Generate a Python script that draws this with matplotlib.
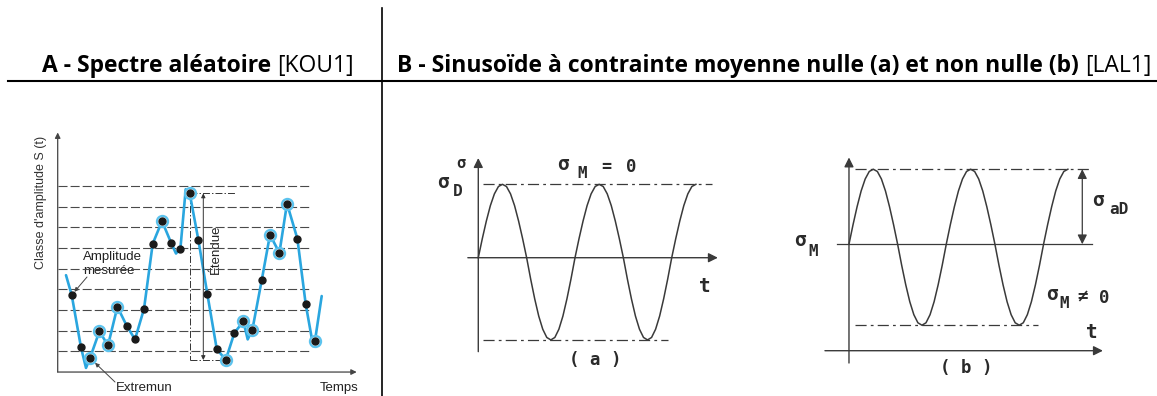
import matplotlib.pyplot as plt

W, H = 1157, 396

# ---- A : random spectrum (time units, amplitude classes) ----
dot_t = [1.40, 2.33, 3.23, 4.17, 5.03, 5.97, 6.90, 7.73, 8.63, 9.50, 10.43, 11.33, 12.27, 13.20,
         14.07, 14.97, 15.90, 16.80, 17.67, 18.57, 19.47, 20.40, 21.23, 22.17, 22.93, 23.97, 24.80, 25.73]
dot_a = [3.73, 1.19, 0.68, 1.97, 1.29, 3.16, 2.24, 1.58, 3.06, 6.21, 7.31, 6.27, 5.98, 8.65,
         6.39, 3.76, 1.13, 0.58, 1.90, 2.45, 2.06, 4.44, 6.65, 5.77, 8.16, 6.45, 3.29, 1.52]
circled = [0, 0, 1, 1, 1, 1, 0, 0, 0, 0, 1, 0, 0, 1,
           0, 0, 0, 1, 0, 1, 1, 0, 1, 1, 1, 0, 0, 1]
# extra vertices of the blue curve (ends, dips, peaks between the dots)
extra_t = [0.83, 2.83, 11.83, 12.80, 19.00, 25.55, 26.40]
extra_a = [4.69, 0.20, 5.74, 8.85, 1.58, 1.25, 3.68]
class_levels = [1, 2, 3, 4, 5, 6, 7, 8, 9]

# ---- B : sinusoids, one period read every 1/24 (peak = 1) ----
wave_phase = [k / 24 for k in range(24)]
wave_shape = [0, .26, .5, .71, .87, .97, 1, .97, .87, .71, .5, .26,
              0, -.26, -.5, -.71, -.87, -.97, -1, -.97, -.87, -.71, -.5, -.26]
n_periods = 2.25
sig_a_up, sig_a_down = 1.0, 1.12          # (a) mean 0
sig_b_mean, sig_b_up, sig_b_down = 1.42, 1.0, 1.08   # (b) mean != 0

plt.rcParams['lines.scale_dashes'] = False

fig = plt.figure(figsize=(W / 100, H / 100), dpi=100)

ov = fig.add_axes([0, 0, 1, 1])
ov.set_xlim(0, W)
ov.set_ylim(H, 0)
ov.axis('off')


def panel(x0, y0, x1, y1, xlim, ylim):
    ax = fig.add_axes([x0 / W, 1 - y1 / H, (x1 - x0) / W, (y1 - y0) / H])
    ax.set_xlim(xlim)
    ax.set_ylim(ylim)
    ax.axis('off')
    return ax


def arrow(ax, p0, p1, col, lw=1.0, ms=10, style='-|>'):
    ax.annotate('', xy=p1, xytext=p0,
                arrowprops=dict(arrowstyle=style, color=col, lw=lw, mutation_scale=ms,
                                shrinkA=0, shrinkB=0))


# table lines and titles
ov.plot([8, W], [80.5, 80.5], color='black', lw=1.5)
ov.plot([381.5, 381.5], [8, H], color='black', lw=1.2)

tf = 'Open Sans'
fs_t = 16.5
t1 = ov.text(42, 72, 'A - Spectre aléatoire ', fontsize=fs_t, fontweight='bold', family=tf,
             va='baseline')
ov.annotate('[KOU1]', xy=(1, 0), xycoords=t1, va='bottom', ha='left', fontsize=fs_t, family=tf)
t2 = ov.text(397, 72, 'B - Sinusoïde à contrainte moyenne nulle (a) et non nulle (b) ',
             fontsize=fs_t, fontweight='bold', family=tf, va='baseline')
ov.annotate('[LAL1]', xy=(1, 0), xycoords=t2, va='bottom', ha='left', fontsize=fs_t, family=tf)

# ---------------- panel A ----------------
axA = panel(20, 130, 380, 396, (-3.77, 32.23), (-1.16, 11.72))
gray = '#444444'
for lv in class_levels:
    axA.plot([0, 25.2], [lv, lv], color='#4a4a4a', lw=0.8, dashes=(6.5, 2.2))
arrow(axA, (0, 0), (0, 11.6), gray, lw=0.9, ms=8)
arrow(axA, (0, 0), (29.9, 0), gray, lw=0.9, ms=8)

pts = sorted(list(zip(dot_t, dot_a)) + list(zip(extra_t, extra_a)))
axA.plot([p[0] for p in pts], [p[1] for p in pts], color='#2aa6df', lw=1.9,
         solid_joinstyle='round', solid_capstyle='round', zorder=3)
ct = [t for t, c in zip(dot_t, circled) if c]
ca = [a for a, c in zip(dot_a, circled) if c]
axA.plot(ct, ca, 'o', ms=8, mfc='white', mec='#5cc3ee', mew=1.6, zorder=4)
axA.plot(dot_t, dot_a, 'o', ms=5, color='#1a1a1a', zorder=5)

# range (Étendue) bracket
i_max = dot_a.index(max(dot_a))
i_min = dot_a.index(min(dot_a))
tmax, amax = dot_t[i_max], dot_a[i_max]
tmin, amin = dot_t[i_min], dot_a[i_min]
dd = (5, 1.5, 1, 1.5)
axA.plot([tmax, tmax + 4.5], [amax, amax], color='#333333', lw=0.7, dashes=dd)
axA.plot([tmax, tmax], [amax, amin], color='#333333', lw=0.7, dashes=dd)
axA.plot([tmax, tmin], [amin, amin], color='#333333', lw=0.7, dashes=dd)
arrow(axA, (tmax + 1.36, amin), (tmax + 1.36, amax), '#333333', lw=0.7, ms=6, style='<|-|>')

lf = 'Liberation Sans'
ov.text(41.5, 202, "Classe d'amplitude S (t)", rotation=90, ha='center', va='center',
        fontsize=9, family=lf, color='#333333')
ov.text(83, 264, 'Amplitude\nmesurée', ha='left', va='center', fontsize=9.5, family=lf,
        color='#222222', linespacing=1.25)
ov.text(116, 388, 'Extremun', ha='left', va='center', fontsize=9.5, family=lf, color='#222222')
ov.text(358, 388, 'Temps', ha='right', va='center', fontsize=9.5, family=lf, color='#222222')
ov.text(216, 249, 'Étendue', rotation=90, ha='center', va='center', fontsize=9.5, family=lf,
        color='#222222')
axA.annotate('', xy=(dot_t[0], dot_a[0]), xytext=(87, 277), textcoords=ov.transData,
             arrowprops=dict(arrowstyle='-|>', color='#444444', lw=0.7, mutation_scale=6,
                             shrinkA=0, shrinkB=3))
axA.annotate('', xy=(dot_t[2], dot_a[2]), xytext=(115, 382), textcoords=ov.transData,
             arrowprops=dict(arrowstyle='-|>', color='#444444', lw=0.7, mutation_scale=6,
                             shrinkA=0, shrinkB=5))


# ---------------- panel B ----------------
def wave(mean, up, down):
    ts, ss = [], []
    k = 0
    while True:
        for ph, sh in zip(wave_phase, wave_shape):
            t = k + ph
            if t > n_periods + 1e-9:
                return ts, ss
            ts.append(t)
            ss.append(mean + sh * (up if sh >= 0 else down))
        k += 1


lc = '#3a3a3a'
dash_dot = (8, 3, 2, 3)

# (a)
axBa = panel(410, 130, 740, 396, (-0.706, 2.706), (-1.884, 1.74))
arrow(axBa, (0, -1.28), (0, 1.358), lc, lw=1.0, ms=14)
arrow(axBa, (-0.108, 0), (2.477, 0), lc, lw=1.0, ms=14)
axBa.plot([0.049, 2.415], [sig_a_up, sig_a_up], color=lc, lw=0.9, dashes=dash_dot)
axBa.plot([0.049, 1.96], [-sig_a_down, -sig_a_down], color=lc, lw=0.9, dashes=dash_dot)
ta, sa = wave(0, sig_a_up, sig_a_down)
axBa.plot(ta, sa, color=lc, lw=1.1)

# (b)
axBb = panel(780, 130, 1157, 396, (-0.709, 3.166), (-0.604, 2.943))
arrow(axBb, (0, -0.164), (0, 2.577), lc, lw=1.0, ms=14)
arrow(axBb, (-0.247, 0), (2.61, 0), lc, lw=1.0, ms=14)
axBb.plot([-0.123, 2.497], [sig_b_mean, sig_b_mean], color=lc, lw=0.9)
top_b = sig_b_mean + sig_b_up
bot_b = sig_b_mean - sig_b_down
axBb.plot([0.062, 2.497], [top_b, top_b], color=lc, lw=0.9, dashes=dash_dot)
axBb.plot([0.062, 1.94], [bot_b, bot_b], color=lc, lw=0.9, dashes=dash_dot)
arrow(axBb, (2.398, sig_b_mean), (2.398, top_b), lc, lw=0.9, ms=14, style='<|-|>')
tb, sb = wave(sig_b_mean, sig_b_up, sig_b_down)
axBb.plot(tb, sb, color=lc, lw=1.1)

mf = 'DejaVu Sans Mono'
kw = dict(family=mf, color='#2a2a2a', ha='center', va='center', fontweight='bold')
ov.text(460.7, 164, 'σ', fontsize=11, **kw)
ov.text(443.3, 182, 'σ', fontsize=14, **kw)
ov.text(458, 192, 'D', fontsize=11.5, **kw)
ov.text(562.7, 165, 'σ', fontsize=14, **kw)
ov.text(581.7, 173, 'M', fontsize=11.5, **kw)
ov.text(606.7, 167, '=', fontsize=12, **kw)
ov.text(631, 167, '0', fontsize=12.5, **kw)
ov.text(705, 287, 't', fontsize=14, **kw)
ov.text(595, 360, '( a )', fontsize=12.5, **kw)

ov.text(800, 240, 'σ', fontsize=14, **kw)
ov.text(813.3, 251, 'M', fontsize=11.5, **kw)
ov.text(1098.3, 201, 'σ', fontsize=14, **kw)
ov.text(1119, 209, 'aD', fontsize=11.5, **kw)
ov.text(1051.7, 295, 'σ', fontsize=14, **kw)
ov.text(1064, 304, 'M', fontsize=11.5, **kw)
ov.text(1082.5, 297, '≠', fontsize=12.5, **kw)
ov.text(1104, 298, '0', fontsize=12.5, **kw)
ov.text(1091.7, 332, 't', fontsize=14, **kw)
ov.text(966.7, 368, '( b )', fontsize=12.5, **kw)

fig.savefig('out.png', dpi=100)
